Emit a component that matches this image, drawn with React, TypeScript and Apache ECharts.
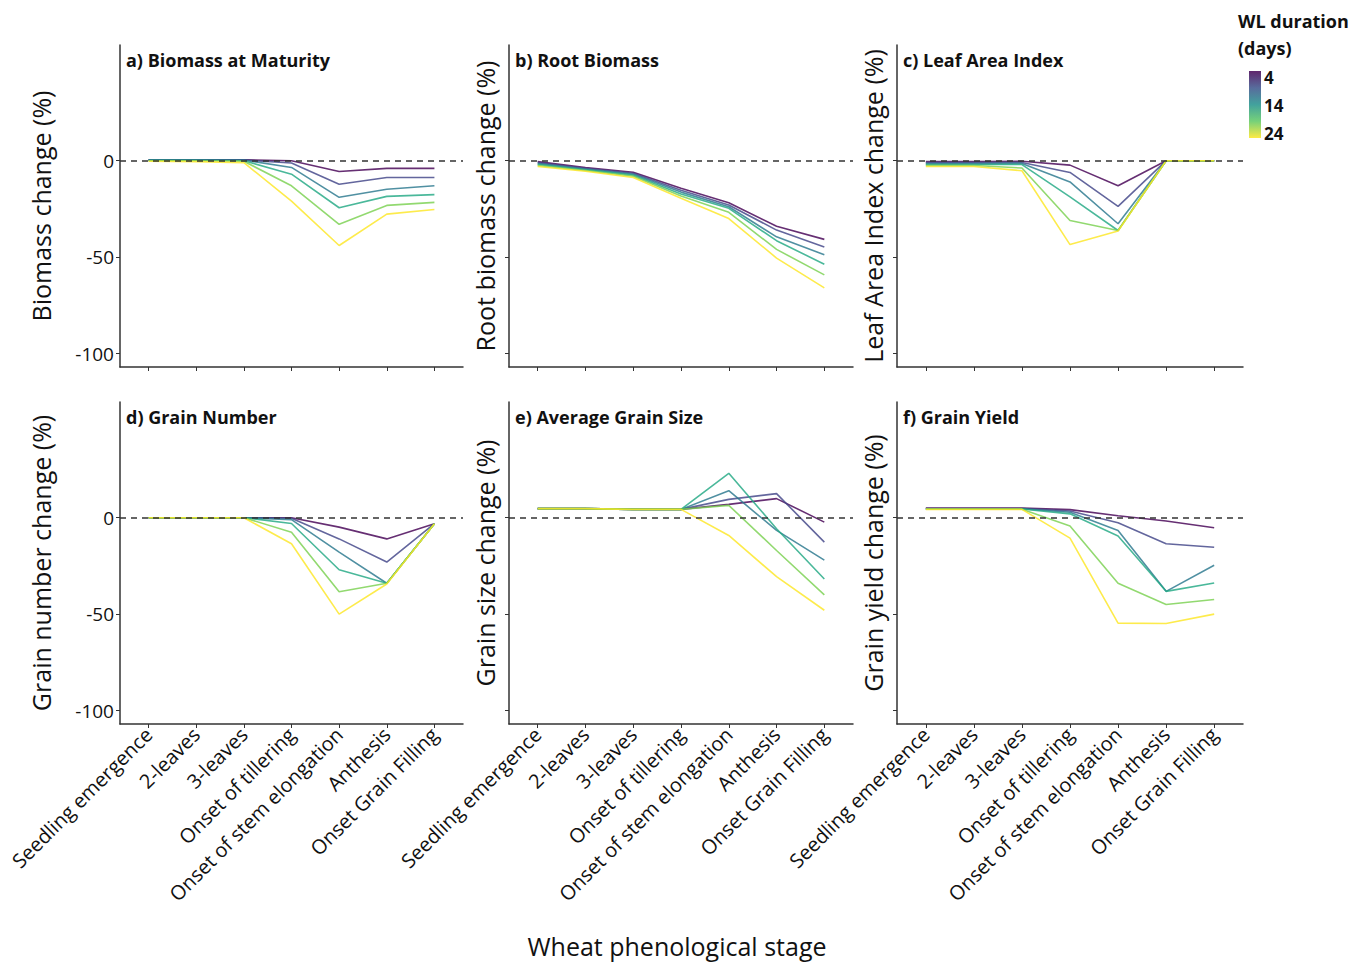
import React, { useEffect, useRef } from 'react';
import * as echarts from 'echarts';

const stages = [
  'Seedling emergence',
  '2-leaves',
  '3-leaves',
  'Onset of tillering',
  'Onset of stem elongation',
  'Anthesis',
  'Onset Grain Filling',
];
const durations = [4, 8, 12, 16, 20, 24];
const lineColors = ['#440154', '#414487', '#2A788E', '#22A884', '#7AD151', '#FDE725'];
const yTicks = [-100, -50, 0];
const legendTicks = ['4', '14', '24'];

// a) Biomass at Maturity (rows: WL duration 4,8,12,16,20,24 days)
const biomass = [
  [0.5, 0.5, 0.5, 0, -5.6, -4, -4],
  [0.4, 0.4, 0.4, -1.2, -12.2, -8.7, -8.7],
  [0.3, 0.3, 0.3, -3.5, -19, -14.8, -13],
  [0.2, 0.2, 0, -7, -24.4, -18.5, -17.6],
  [0, 0, -0.3, -13, -33, -23.2, -21.6],
  [-0.3, -0.5, -1, -21, -44, -27.7, -25.3],
];
// b) Root Biomass
const rootBiomass = [
  [-0.5, -3.5, -6, -14.3, -21.8, -34, -40.8],
  [-1, -3.9, -6.5, -15.3, -23, -36, -44.8],
  [-1.5, -4.3, -7, -16.3, -23.9, -39.5, -48.8],
  [-2, -4.7, -7.5, -17.3, -24.7, -41.5, -53.7],
  [-2.5, -5.1, -8.1, -18.3, -26.8, -46, -59.2],
  [-3, -5.5, -8.7, -19.5, -30, -50.5, -66],
];
// c) Leaf Area Index
const leafAreaIndex = [
  [-0.5, -0.5, -0.3, -2.3, -13, 0, 0],
  [-1, -1, -0.9, -6.1, -23.7, 0, 0],
  [-1.5, -1.5, -1.4, -11, -32.7, 0, 0],
  [-2, -2, -2, -18.8, -36.2, 0, 0],
  [-2.5, -2.5, -3.8, -31, -36.2, 0, 0],
  [-3, -3, -5.2, -43.5, -36.5, 0, 0],
];
// d) Grain Number
const grainNumber = [
  [0, 0, 0, 0, -4.9, -11, -3.1],
  [0, 0, 0, -0.3, -11, -23, -3.1],
  [0, 0, 0, -1, -17.9, -34, -3.1],
  [0, 0, 0, -3, -27, -34, -3.1],
  [0, 0, 0, -7.5, -38.4, -34, -3.1],
  [0, 0, 0, -13.5, -50, -34.4, -3.1],
];
// e) Average Grain Size
const grainSize = [
  [4.7, 4.7, 4.3, 4.3, 6.9, 9.9, -2.3],
  [4.7, 4.7, 4.3, 4.3, 9.5, 12.5, -12.7],
  [4.7, 4.7, 4.3, 4.3, 14, -6.6, -22],
  [4.7, 4.7, 4.3, 4.3, 23, -5.7, -31.8],
  [4.7, 4.7, 4.3, 4.3, 6.4, -17, -40],
  [4.7, 4.7, 4.3, 4.3, -9.2, -30.6, -48],
];
// f) Grain Yield
const grainYield = [
  [5, 5, 5, 4.2, 1, -1.7, -5.2],
  [4.8, 4.8, 4.8, 3.5, -2.6, -13.5, -15.3],
  [4.6, 4.6, 4.6, 2.8, -6.6, -38.2, -24.7],
  [4.5, 4.5, 4.5, 2, -9.5, -38.2, -33.9],
  [4.4, 4.4, 4.4, -4.3, -34, -45, -42.4],
  [4.3, 4.3, 4.3, -10.6, -54.7, -54.9, -50],
];

const panels = [
  { title: 'a) Biomass at Maturity', yName: 'Biomass change (%)', data: biomass },
  { title: 'b) Root Biomass', yName: 'Root biomass change (%)', data: rootBiomass },
  { title: 'c) Leaf Area Index', yName: 'Leaf Area Index change (%)', data: leafAreaIndex },
  { title: 'd) Grain Number', yName: 'Grain number change (%)', data: grainNumber },
  { title: 'e) Average Grain Size', yName: 'Grain size change (%)', data: grainSize },
  { title: 'f) Grain Yield', yName: 'Grain yield change (%)', data: grainYield },
];

const FONT = '"Open Sans", "Noto Sans", sans-serif';
const colLeft = [120, 509, 897];
const colWidth = [343, 344, 346];
const rowTop = [45, 402];
const panelHeight = 322;

export default function App() {
  const ref = useRef<HTMLDivElement>(null);

  useEffect(() => {
    if (!ref.current) return;
    const chart = echarts.init(ref.current, null, { renderer: 'svg' });

    const grids: any[] = [];
    const xAxes: any[] = [];
    const yAxes: any[] = [];
    const series: any[] = [];
    const graphics: any[] = [];

    panels.forEach((p, i) => {
      const col = i % 3;
      const row = Math.floor(i / 3);
      grids.push({
        left: colLeft[col],
        top: rowTop[row],
        width: colWidth[col],
        height: panelHeight,
        containLabel: false,
      });
      xAxes.push({
        type: 'value',
        gridIndex: i,
        min: -0.6,
        max: 6.6,
        splitLine: { show: false },
        axisLine: { show: true, onZero: false, lineStyle: { color: '#333', width: 1.5 } },
        axisTick: {
          show: true,
          customValues: stages.map((_, k) => k),
          length: 4,
          lineStyle: { color: '#333', width: 1 },
        },
        axisLabel: {
          show: row === 1,
          customValues: stages.map((_, k) => k),
          formatter: (v: number) => stages[Math.round(v)] ?? '',
          rotate: 45,
          margin: 7,
          fontSize: 20,
          fontFamily: FONT,
          color: '#111',
        },
      });
      yAxes.push({
        type: 'value',
        gridIndex: i,
        min: -107,
        max: 60,
        splitLine: { show: false },
        axisLine: { show: true, onZero: false, lineStyle: { color: '#333', width: 1.5 } },
        axisTick: {
          show: true,
          customValues: yTicks,
          length: 4,
          lineStyle: { color: '#333', width: 1 },
        },
        axisLabel: {
          show: col === 0,
          customValues: yTicks,
          margin: 6,
          fontSize: 19,
          fontFamily: FONT,
          color: '#111',
        },
        name: p.yName,
        nameLocation: 'middle',
        nameRotate: 90,
        nameGap: col === 0 ? 67 : 12,
        nameTextStyle: { fontSize: 25, fontFamily: FONT, color: '#111' },
      });

      p.data.forEach((vals, d) => {
        series.push({
          type: 'line',
          name: `${durations[d]} days`,
          xAxisIndex: i,
          yAxisIndex: i,
          data: vals.map((v, k) => [k, v]),
          showSymbol: false,
          symbol: 'none',
          z: 2,
          lineStyle: { color: lineColors[d], width: 1.6, opacity: 0.82 },
          itemStyle: { color: lineColors[d] },
        });
      });
      series.push({
        type: 'line',
        xAxisIndex: i,
        yAxisIndex: i,
        data: [],
        z: 3,
        silent: true,
        markLine: {
          silent: true,
          symbol: ['none', 'none'],
          label: { show: false },
          lineStyle: { type: [6, 5], color: '#333', width: 1.5 },
          data: [{ yAxis: 0 }],
        },
      });

      graphics.push({
        type: 'text',
        x: colLeft[col] + 6,
        y: rowTop[row] + 15,
        style: {
          text: p.title,
          font: `bold 18px ${FONT}`,
          fill: '#111',
          align: 'left',
          verticalAlign: 'middle',
        },
      });
    });

    // bottom title
    graphics.push({
      type: 'text',
      x: 677,
      y: 946,
      style: {
        text: 'Wheat phenological stage',
        font: `25px ${FONT}`,
        fill: '#111',
        align: 'center',
        verticalAlign: 'middle',
      },
    });

    // colour legend
    graphics.push({
      type: 'text',
      x: 1238,
      y: 21,
      style: { text: 'WL duration', font: `bold 18px ${FONT}`, fill: '#111', align: 'left', verticalAlign: 'middle' },
    });
    graphics.push({
      type: 'text',
      x: 1238,
      y: 48,
      style: { text: '(days)', font: `bold 18px ${FONT}`, fill: '#111', align: 'left', verticalAlign: 'middle' },
    });
    graphics.push({
      type: 'rect',
      shape: { x: 1249, y: 71, width: 12, height: 67 },
      style: {
        opacity: 0.85,
        fill: new echarts.graphic.LinearGradient(0, 0, 0, 1, [
          { offset: 0, color: '#440154' },
          { offset: 0.25, color: '#3B528B' },
          { offset: 0.5, color: '#21918C' },
          { offset: 0.75, color: '#5EC962' },
          { offset: 1, color: '#FDE725' },
        ]),
      },
    });
    const legendYs = [77, 105, 133];
    legendTicks.forEach((t, k) => {
      graphics.push({
        type: 'text',
        x: 1264,
        y: legendYs[k],
        style: { text: t, font: `bold 17px ${FONT}`, fill: '#111', align: 'left', verticalAlign: 'middle' },
      });
    });

    chart.setOption({
      animation: false,
      backgroundColor: '#fff',
      grid: grids,
      xAxis: xAxes,
      yAxis: yAxes,
      series,
      graphic: graphics,
    });

    return () => chart.dispose();
  }, []);

  return (
    <div
      ref={ref}
      style={{ position: 'absolute', left: 0, top: 0, width: 1368, height: 964 }}
    />
  );
}
